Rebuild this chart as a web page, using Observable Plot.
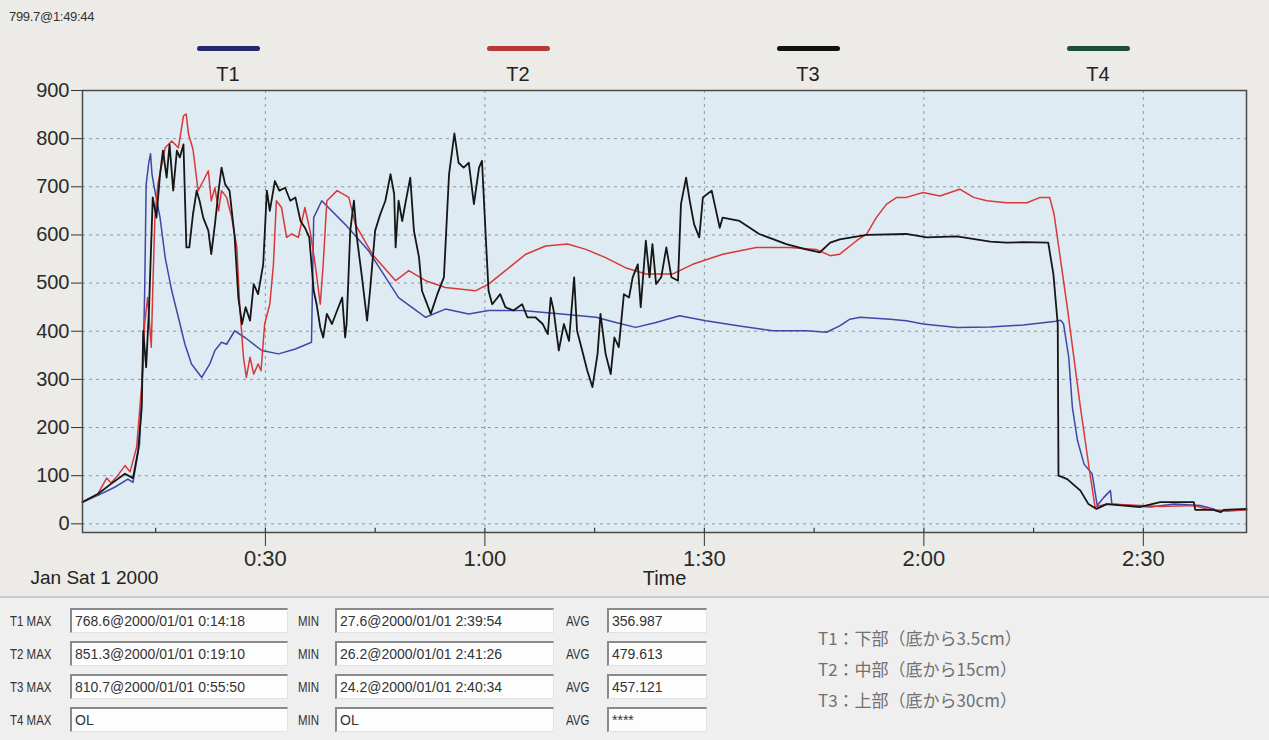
<!DOCTYPE html>
<html><head><meta charset="utf-8">
<script src="https://cdn.jsdelivr.net/npm/d3@7"></script>
<script src="https://cdn.jsdelivr.net/npm/@observablehq/plot@0.6"></script>
<style>
html,body{margin:0;padding:0}
body{width:1269px;height:740px;overflow:hidden;background:#ecebe7;font-family:"Liberation Sans",Arial,sans-serif;position:relative;color:#222}
#chart{position:absolute;left:0;top:0}
.abs{position:absolute;white-space:nowrap}
.legbar{position:absolute;height:5px;border-radius:3px}
.leglab{position:absolute;font-size:20px;transform:translateX(-50%);color:#222}
#panel{position:absolute;left:0;top:596px;width:1269px;height:144px;background:#efefef;border-top:2px solid #c9c9c9}
.lbl{position:absolute;font-size:14px;color:#333;transform:scaleX(0.82);transform-origin:left center;line-height:16px}
.box{position:absolute;height:25px;background:#fdfdfd;border-top:2px solid #8a8a8a;border-left:2px solid #8a8a8a;border-bottom:1px solid #e2e2e2;border-right:1px solid #e2e2e2;box-sizing:border-box;font-size:14px;line-height:22px;padding-left:3px;color:#333;overflow:hidden}
.note{position:absolute;font-size:17px;color:#707070;font-family:"Noto Sans CJK JP","Liberation Sans",sans-serif;line-height:20px}
</style></head><body>
<div id="chart"></div>
<script>
// ---------- data ----------
const seriesNames = ["T1", "T2", "T3", "T4"];
const legendColors = ["#23276e", "#b53a3a", "#111111", "#1e4f36"];
const lineColors = ["#3f47a8", "#d8383a", "#161616", "#1e4f36"];

// time in minutes since 0:00
const t1Time = [5.0,7.1,9.4,11.2,11.9,12.8,13.3,13.5,13.7,14.06,14.3,14.5,14.9,15.6,16.3,17.2,18.1,19.0,19.9,21.3,22.4,23.1,24.0,24.7,25.8,27.2,29.5,31.8,34.1,36.3,36.6,37.7,40.9,44.1,48.2,51.9,54.6,57.8,60.5,65.1,69.7,75.2,77.9,80.6,83.4,86.6,90.2,94.8,99.4,103.9,106.7,108.5,109.9,111.3,115.4,117.6,119.9,124.5,129.1,133.6,137.8,138.7,139.1,139.8,140.3,141.0,141.9,143.0,143.7,144.6,145.5,145.7,148.2,151.0,154.2,157.8,159.6,159.9,164.1];
const t1Value = [45,59,76,93,86,166,346,484,705,750,768.6,726,691,636,553,484,429,373,332,304,332,360,377,373,401,387,360,353,363,377,636,671,622,567,470,429,446,436,443,443,437,429,418,408,418,432,422,411,401,401,398,411,425,429,425,422,415,408,409,413,420,423,415,346,242,173,124,104,38,55,69,41,38,35,41,38,31,27.6,29];

const t2Time = [5.0,7.1,8.3,8.9,9.8,10.8,11.5,12.4,13.1,13.5,13.9,14.4,14.6,14.9,15.3,16.3,17.2,18.1,18.8,19.17,19.5,20.1,20.8,21.5,22.2,22.6,23.1,23.6,24.0,24.7,25.4,26.1,26.5,27.0,27.4,27.9,28.4,29.0,29.4,29.9,30.6,31.1,31.5,32.2,32.9,33.6,34.5,35.4,36.1,36.8,37.5,37.9,38.4,39.8,41.4,42.3,44.6,47.8,49.6,51.9,54.6,58.7,60.5,62.8,65.6,68.3,71.3,73.8,76.5,79.2,82.0,85.7,88.4,92.5,97.1,101.6,105.3,107.2,108.5,110.8,112.2,113.5,114.9,116.3,117.6,119.9,122.2,124.9,126.8,128.6,131.3,134.1,135.9,137.2,137.8,139.6,141.4,142.7,143.4,145.0,149.6,152.3,156.9,158.7,161.4,164.1];
const t2Value = [45,62,95,85,100,121,108,159,290,415,470,367,484,636,705,781,795,781,847,851.3,809,778,692,712,733,671,698,650,692,678,636,574,450,346,304,346,311,332,318,415,456,539,671,657,595,602,595,657,609,539,456,539,671,692,678,622,560,505,526,505,491,484,498,526,560,577,581,570,553,532,519,519,539,560,574,574,570,557,560,588,602,636,664,678,678,688,681,695,678,671,667,667,678,678,643,450,242,104,35,41,38,36,38,31,26.2,29];

const t3Time = [5.0,7.1,8.9,10.8,11.9,12.6,13.1,13.3,13.7,14.1,14.6,15.1,15.6,16.0,16.5,16.9,17.4,17.9,18.3,18.8,19.2,19.6,20.1,20.6,21.0,21.5,22.2,22.6,23.1,23.6,24.0,24.5,25.1,25.8,26.3,26.8,27.3,27.9,28.4,29.0,29.7,30.2,30.6,31.3,31.9,32.7,33.4,34.1,34.8,35.4,36.0,36.6,37.0,37.5,37.9,38.4,39.1,39.8,40.5,40.9,41.1,41.6,42.1,42.5,43.2,43.9,44.3,45.0,45.7,46.4,47.1,47.6,47.8,48.2,48.7,49.2,49.8,50.3,51.0,51.4,52.6,53.5,54.4,55.1,55.83,56.4,57.1,57.8,58.5,59.2,59.6,60.1,60.5,61.0,62.1,62.8,63.9,65.1,65.8,66.9,67.9,68.6,69.0,69.4,70.1,70.8,71.5,72.2,72.6,73.3,74.0,74.7,75.4,75.8,76.5,77.2,77.7,78.3,79.0,79.7,80.2,80.9,81.3,82.0,82.5,82.9,83.4,84.1,84.8,85.5,86.4,86.8,87.5,88.0,88.6,89.3,89.8,90.4,91.0,91.6,92.1,92.5,94.8,97.5,101.2,103.9,105.8,107.2,108.5,112.2,117.6,120.4,124.5,129.1,131.3,133.6,137.0,137.7,138.3,138.4,139.6,141.4,142.5,143.6,145.0,147.3,149.6,152.3,156.9,157.1,159.6,160.57,161.0,164.1];
const t3Value = [45,62,83,104,95,152,242,401,325,450,678,636,726,775,719,788,692,775,761,788,574,574,643,692,671,636,609,560,622,692,740,705,692,595,470,415,450,422,498,477,539,692,650,712,692,698,671,678,629,615,595,484,456,408,387,436,415,443,470,387,415,609,671,595,512,422,484,609,643,671,726,685,574,671,629,671,719,609,553,484,436,477,512,726,810.7,750,740,750,664,740,754,602,484,456,477,450,443,456,429,429,415,394,470,443,360,415,380,512,401,360,318,284,353,436,353,311,387,367,477,470,512,539,450,588,512,581,498,512,574,512,505,664,719,671,622,595,678,685,692,650,615,636,629,602,581,570,564,584,591,600,602,595,597,586,584,585,584,519,415,100,93,69,41,31,41,38,35,45,45,29,29,24.2,29,31];

const yTicks = [0,100,200,300,400,500,600,700,800,900];
const xMajorTicks = [30,60,90,120,150];
const xMinorTicks = [15,30,45,60,75,90,105,120,135,150];

const headerText = "799.7@1:49:44";
const dateLabel = "Jan Sat 1 2000";
const xLabel = "Time";
const statMax = ["768.6@2000/01/01 0:14:18","851.3@2000/01/01 0:19:10","810.7@2000/01/01 0:55:50","OL"];
const statMin = ["27.6@2000/01/01 2:39:54","26.2@2000/01/01 2:41:26","24.2@2000/01/01 2:40:34","OL"];
const statAvg = ["356.987","479.613","457.121","****"];
const notes = ["T1：下部（底から3.5cm）","T2：中部（底から15cm）","T3：上部（底から30cm）"];

// ---------- build ----------
const rows = [];
[[t1Time,t1Value,"T1"],[t2Time,t2Value,"T2"],[t3Time,t3Value,"T3"]].forEach(([ts,vs,k]) => {
  ts.forEach((t,i) => rows.push({t, v: vs[i], k}));
});
const fmt = m => `${Math.floor(m/60)}:${String(Math.round(m%60)).padStart(2,"0")}`;

const chart = Plot.plot({
  width: 1269, height: 597,
  marginLeft: 82, marginRight: 23, marginTop: 90, marginBottom: 65,
  style: {background: "transparent", fontFamily: "'Liberation Sans', Arial, sans-serif", color: "#2a2a2a", overflow: "visible"},
  x: {domain: [5, 164.1]},
  y: {domain: [-18, 900]},
  color: {domain: seriesNames, range: lineColors},
  marks: [
    Plot.frame({fill: "#dfebf2"}),
    Plot.gridY(yTicks.slice(0, -1), {stroke: "#7f8b93", strokeOpacity: 0.85, strokeDasharray: "3,4", strokeWidth: 1}),
    Plot.gridX(xMajorTicks, {stroke: "#7f8b93", strokeOpacity: 0.85, strokeDasharray: "3,4", strokeWidth: 1}),
    Plot.line(rows, {x: "t", y: "v", z: "k", stroke: "k", strokeWidth: d => d.k === "T3" ? 1.8 : 1.5}),
    Plot.ruleX(xMinorTicks, {y1: -18, y2: -9, stroke: "#333", strokeWidth: 1.2}),
    Plot.axisY(yTicks, {tickSize: 11, tickPadding: 2, fontSize: 20, label: null, stroke: "#333"}),
    Plot.axisX(xMajorTicks, {tickSize: 14, tickPadding: 4, fontSize: 22, label: null, tickFormat: fmt, stroke: "#333"}),
    Plot.frame({stroke: "#4a4a4a", strokeWidth: 1.5}),
    Plot.text([xLabel], {frameAnchor: "bottom", dy: 52, fontSize: 20, fill: "#222"}),
    Plot.text([dateLabel], {frameAnchor: "bottom-left", textAnchor: "start", dx: -52, dy: 51, fontSize: 19, fill: "#222"})
  ]
});
document.getElementById("chart").appendChild(chart);

// header text
const h = document.createElement("div");
h.className = "abs"; h.textContent = headerText;
Object.assign(h.style, {left: "9px", top: "9px", fontSize: "13px", color: "#333", letterSpacing: "-0.3px"});
document.body.appendChild(h);

// legend
seriesNames.forEach((name, i) => {
  const cx = 228 + 290 * i;
  const bar = document.createElement("div");
  bar.className = "legbar";
  Object.assign(bar.style, {left: (cx - 31) + "px", top: "46px", width: "63px", background: legendColors[i]});
  document.body.appendChild(bar);
  const lab = document.createElement("div");
  lab.className = "leglab"; lab.textContent = name;
  Object.assign(lab.style, {left: cx + "px", top: "63px"});
  document.body.appendChild(lab);
});

// bottom panel
const panel = document.createElement("div");
panel.id = "panel";
document.body.appendChild(panel);
const addEl = (cls, text, x, y, w) => {
  const e = document.createElement("div");
  e.className = cls; e.textContent = text;
  e.style.left = x + "px"; e.style.top = y + "px";
  if (w) e.style.width = w + "px";
  panel.appendChild(e);
  return e;
};
seriesNames.forEach((name, i) => {
  const top = 10 + 33 * i; // relative to panel
  addEl("lbl", name + " MAX", 10, top + 5);
  addEl("box", statMax[i], 70, top, 218);
  addEl("lbl", "MIN", 298, top + 5);
  addEl("box", statMin[i], 335, top, 219);
  addEl("lbl", "AVG", 566, top + 5);
  addEl("box", statAvg[i], 607, top, 100);
});
notes.forEach((n, i) => addEl("note", n, 818, 30 + 31 * i));
</script>
</body></html>
